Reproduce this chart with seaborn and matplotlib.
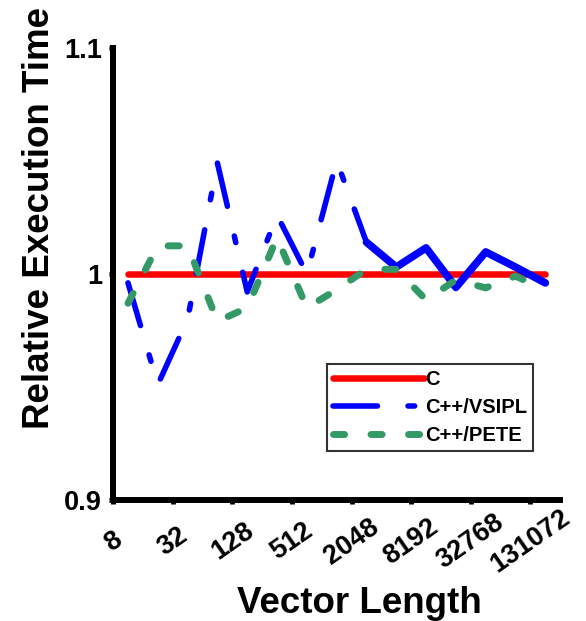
import numpy as np
import pandas as pd
import matplotlib
matplotlib.use("Agg")
import matplotlib.pyplot as plt
import seaborn as sns

# Vector lengths 2^3 .. 2^17
lengths = [8, 16, 32, 64, 128, 256, 512, 1024, 2048, 4096, 8192,
           16384, 32768, 65536, 131072]

# Execution time relative to the plain C version
rel_c = [1.0] * 15
rel_vsipl = [0.996, 0.951, 0.980, 1.049, 0.992, 1.026, 1.000, 1.050,
             1.014, 1.003, 1.0115, 0.994, 1.0097, 1.003, 0.996]
rel_pete = [0.987, 1.0124, 1.0124, 0.979, 0.985, 1.016, 0.985, 0.993,
            1.002, 1.002, 0.9885, 0.9973, 0.9938, 0.999, 0.993]

series_names = ["C", "C++/VSIPL", "C++/PETE"]
y_ticks = [0.9, 1.0, 1.1]
y_tick_labels = ["0.9", "1", "1.1"]

sns.set_style("white")
plt.rcParams["font.family"] = ["Liberation Sans", "DejaVu Sans"]
plt.rcParams["font.weight"] = "bold"
for key in ["text.color", "axes.labelcolor", "xtick.color", "ytick.color"]:
    plt.rcParams[key] = "black"

fig = plt.figure(figsize=(5.86, 6.21), dpi=100)
ax = fig.add_axes([0.193, 0.195, 0.763, 0.728])

pos = np.arange(len(lengths))
blue = "#0000ff"

sns.lineplot(x=pos, y=rel_c, ax=ax, color="#ff0000", lw=4.7,
             solid_capstyle="round", label=series_names[0])
sns.lineplot(x=pos[:9], y=rel_vsipl[:9], ax=ax, color=blue, lw=4.0,
             linestyle=(0, (8.0, 5.5, 1.2, 5.5)), dash_capstyle="round",
             label=series_names[1])
# the long-vector end of the VSIPL curve is drawn as a continuous stroke
sns.lineplot(x=pos[8:], y=rel_vsipl[8:], ax=ax, color=blue, lw=5.5,
             solid_capstyle="round", solid_joinstyle="round", legend=False)
sns.lineplot(x=pos, y=rel_pete, ax=ax, color="#339966", lw=5.0,
             linestyle=(0, (1.6, 3.8)), dash_capstyle="round",
             label=series_names[2])

ax.set_xlim(-0.5, len(lengths) - 0.5)
ax.set_ylim(0.9, 1.1)

# category axis: ticks sit between categories, every other one labelled
tick_pos = pos[::2] - 0.5
ax.set_xticks(tick_pos)
ax.set_xticklabels([str(v) for v in lengths[::2]])
ax.set_yticks(y_ticks)
ax.set_yticklabels(y_tick_labels)

ax.tick_params(axis="both", direction="out", length=3, width=3.5,
               color="black", labelcolor="black", left=True, bottom=True,
               labelsize=19.5)
ax.tick_params(axis="x", pad=27)
ax.tick_params(axis="y", pad=5)
for t in ax.get_xticklabels():
    t.set_rotation(35)
    t.set_ha("center")
    t.set_va("center")
    t.set_fontweight("bold")
for t in ax.get_yticklabels():
    t.set_fontweight("bold")

for side in ["top", "right"]:
    ax.spines[side].set_visible(False)
for side in ["left", "bottom"]:
    ax.spines[side].set_linewidth(4.3)
    ax.spines[side].set_color("black")

ax.set_xlabel("Vector Length", fontsize=26.5, fontweight="bold")
ax.set_ylabel("Relative Execution Time", fontsize=26.5, fontweight="bold")
ax.xaxis.set_label_coords(0.55, -0.19)
ax.yaxis.set_label_coords(-0.125, 0.624)

leg = ax.legend(loc="lower right", bbox_to_anchor=(0.9396, 0.1084),
                borderaxespad=0, prop={"size": 14.5, "weight": "bold"},
                handlelength=4.5, handletextpad=0.1, borderpad=0.28,
                labelspacing=0.45, fancybox=False, frameon=True)
leg.get_frame().set_edgecolor("black")
leg.get_frame().set_linewidth(1.5)

fig.savefig("out.png", dpi=100, facecolor="white")
